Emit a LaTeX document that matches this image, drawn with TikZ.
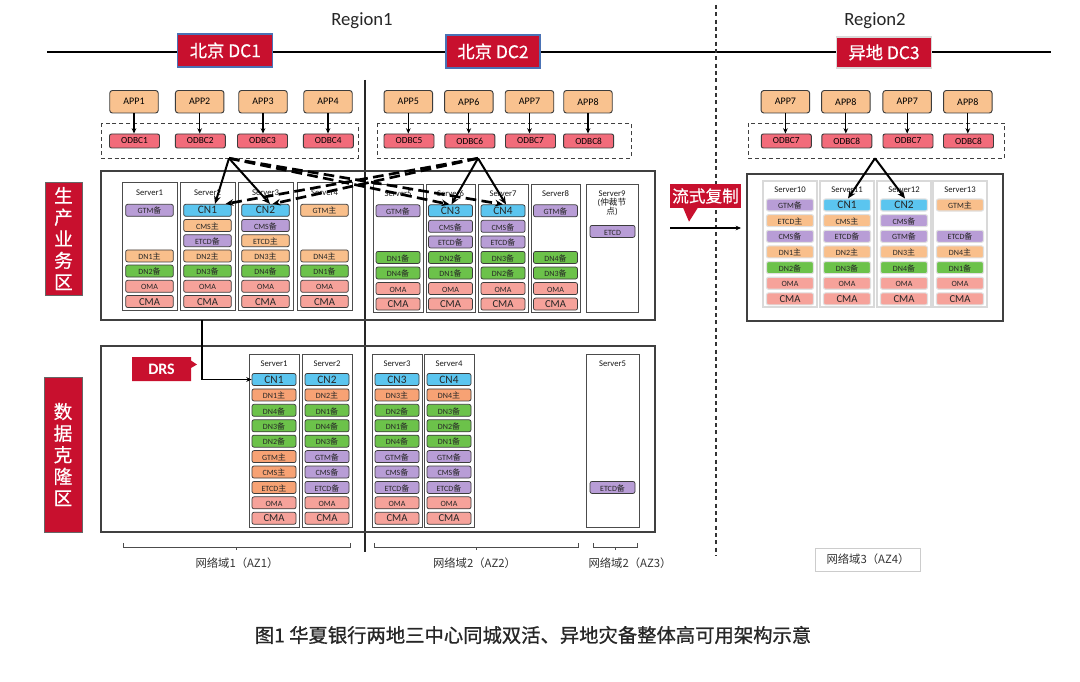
\documentclass[tikz,border=0pt]{standalone}
\usepackage{fontspec}
\setmainfont{Carlito}
\newfontfamily\cjk{Noto Sans CJK SC}
\newfontfamily\cjkcap{Noto Sans CJK SC}[FakeBold=0.8]
\newfontfamily\cjkmed{Noto Sans CJK SC}[FakeBold=0.5]
\usetikzlibrary{arrows.meta,calc}
\newcommand\BEI{{\cjk 备}}
\newcommand\ZHU{{\cjk 主}}
\newcommand\px[1]{#1*0.75pt}
\definecolor{cred}{HTML}{C8102E}
\definecolor{cblue}{HTML}{4A72B5}
\definecolor{capp}{HTML}{F9C28F}
\definecolor{codbc}{HTML}{F26B7A}
\definecolor{cpur}{HTML}{B89DD6}
\definecolor{cora}{HTML}{F9BF8B}
\definecolor{corb}{HTML}{F7A274}
\definecolor{cgrn}{HTML}{6CC24A}
\definecolor{ccn}{HTML}{5BC5EF}
\definecolor{csal}{HTML}{F6A29A}
\definecolor{cedge}{HTML}{3C3C3C}
\newcommand\srv[6]{%
  \foreach \r/\s/\t in {#6}{%
    \node[cell,\s,minimum width=\px{#5}] (#1-\r) at (#2,{#3+(\r-1)*#4}) {\t};
  }}
\tikzset{
  cell/.style={draw=cedge, line width=0.55pt, rounded corners=1.5pt, inner sep=0pt,
    minimum height=\px{12}, text height=0.7em, text depth=0.15em,
    font=\fontsize{6}{7}\selectfont, text=black!85},
  pur/.style={fill=cpur}, ora/.style={fill=cora}, orb/.style={fill=corb},
  grn/.style={fill=cgrn}, cnb/.style={fill=ccn, font=\fontsize{8.5}{9}\selectfont},
  oma/.style={fill=csal}, cma/.style={fill=csal, font=\fontsize{8}{9}\selectfont},
  srvbox/.style={draw=black!70, line width=0.6pt, fill=white},
  srvlite/.style={draw=black!15, line width=1pt, fill=white},
  title/.style={font=\fontsize{6.5}{7.5}\selectfont, inner sep=0pt, text=black!90},
  bigbox/.style={draw=black!75, line width=0.9pt},
  appbox/.style={draw=cedge, line width=0.7pt, fill=capp, rounded corners=2pt,
    minimum width=\px{48.5}, minimum height=\px{22.5}, inner sep=0pt, font=\fontsize{7.5}{8}\selectfont},
  odbcbox/.style={draw=cedge, line width=0.7pt, fill=codbc, rounded corners=1.5pt,
    minimum width=\px{50}, minimum height=\px{14}, inner sep=0pt, font=\fontsize{7}{8}\selectfont},
  odbcgrp/.style={draw=black!75, line width=0.7pt, dash pattern=on 3pt off 2.2pt},
  arr/.style={-{Stealth[length=4pt,width=3.5pt]}, line width=0.9pt},
  bigarr/.style={-{Stealth[length=6pt,width=5pt]}, line width=1.5pt},
  dasharr/.style={-{Stealth[length=6pt,width=5pt]}, line width=2pt, dash pattern=on 8pt off 4pt},
  redlab/.style={fill=cred, text=white, inner sep=0pt},
  brk/.style={draw=black!70, line width=0.7pt},
  azlab/.style={font=\cjk\fontsize{8.5}{10}\selectfont, text=black!80, inner sep=1pt},
}
\begin{document}
\begin{tikzpicture}[x=0.75pt,y=-0.75pt]
\useasboundingbox (0,0) rectangle (1080,681);
\fill[white] (0,0) rectangle (1080,681);

% top line and regions
\coordinate (tlA) at (47,52);
\coordinate (tlB) at (1051,52);
\draw[line width=2.2pt] (tlA) -- (tlB);
\node[font=\fontsize{14}{16}\selectfont, text=black!85] (reg1) at (362,21) {Region1};
\node[font=\fontsize{14}{16}\selectfont, text=black!85] (reg2) at (875,21) {Region2};
\node[redlab, draw=cblue, line width=0.8pt, minimum width=\px{95}, minimum height=\px{33},
  font=\cjkmed\fontsize{13}{14}\selectfont] (dc1) at (225.3,50.5) {北京 DC1};
\node[redlab, draw=cblue, line width=0.8pt, minimum width=\px{94}, minimum height=\px{33},
  font=\cjkmed\fontsize{13}{14}\selectfont] (dc2) at (493,51.5) {北京 DC2};
\node[redlab, draw=black!15, line width=0.8pt, minimum width=\px{94.5}, minimum height=\px{31},
  font=\cjkmed\fontsize{13}{14}\selectfont] (dc3) at (884,52.5) {异地 DC3};

% separators
\coordinate (vA) at (365,80);
\coordinate (vB) at (365,552);
\draw[line width=1pt, black!85] (vA) -- (vB);
\coordinate (dA) at (716,5);
\coordinate (dB) at (716,556);
\draw[line width=0.8pt, black!80, dash pattern=on 3pt off 2.5pt] (dA) -- (dB);

% ODBC groups
\draw[odbcgrp] (101,123.3) rectangle (358,158.3);
\draw[odbcgrp] (377,123.3) rectangle (631,158.3);
\draw[odbcgrp] (748.7,123.3) rectangle (1004.7,158.3);

% APPs and ODBCs
\foreach \i/\x/\lab in {1/134/APP1, 2/199.7/APP2, 3/263/APP3, 4/328/APP4, 5/408.3/APP5, 6/468.8/APP6, 7/529.5/APP7, 8/588/APP8, 9/785.4/APP7, 10/845.8/APP8, 11/907.2/APP7, 12/967.8/APP8}
  {\node[appbox] (app\i) at (\x,101.75) {\lab};}
\foreach \i/\x/\lab in {1/134.5/ODBC1, 2/200.3/ODBC2, 3/262.5/ODBC3, 4/328.3/ODBC4, 5/409/ODBC5, 6/469.8/ODBC6, 7/530.5/ODBC7, 8/588.6/ODBC8, 9/786.3/ODBC7, 10/846.8/ODBC8, 11/908/ODBC7, 12/968.5/ODBC8}
  {\node[odbcbox] (odbc\i) at (\x,141) {\lab};
   \draw[arr] (app\i.south) -- (app\i.south |- odbc\i.north);}

% zone labels
\node[redlab, draw=black!60, line width=0.5pt, minimum width=\px{37}, minimum height=\px{113},
  align=center, font=\cjkmed\fontsize{14}{16.2}\selectfont] (zoneA) at (63.5,238.5) {生\\产\\业\\务\\区};
\node[redlab, draw=black!60, line width=0.5pt, minimum width=\px{38}, minimum height=\px{155},
  align=center, font=\cjkmed\fontsize{14}{16.2}\selectfont] (zoneB) at (63,454.5) {数\\据\\克\\隆\\区};

% big boxes
\draw[bigbox] (101,171) rectangle (655,320);
\draw[bigbox] (747,174) rectangle (1003,321);
\draw[bigbox] (101,346) rectangle (655,532);

% production servers
\foreach \n/\xa/\xb/\lab in {p1/122/177/Server1, p2/180/235/Server2, p3/238/293/Server3, p4/297/352/Server4}{
  \draw[srvbox] (\xa,182) rectangle (\xb,310);
  \node[title] (\n-t) at ({(\xa+\xb)/2},192.7) {\lab};}
\foreach \n/\xa/\xb/\lab in {p5/373/423/Server5, p6/426/475/Server6, p7/478/528/Server7, p8/531/580/Server8}{
  \draw[srvbox] (\xa,184) rectangle (\xb,312);
  \node[title] (\n-t) at ({(\xa+\xb)/2},193.5) {\lab};}
\draw[srvbox] (586,184) rectangle (638,312);
\node[title] (p9-t) at (612,194) {Server9};
\node[title] (p9-t2) at (612,202.6) {({\cjk 仲裁节}};
\node[title] (p9-t3) at (612,211.2) {{\cjk 点})};

\srv{p1}{149.5}{210.3}{15.2}{47.6}{1/pur/GTM\BEI, 4/ora/DN1\ZHU, 5/grn/DN2\BEI, 6/oma/OMA, 7/cma/CMA}
\srv{p2}{207.5}{210.3}{15.2}{47.6}{1/cnb/CN1, 2/ora/CMS\ZHU, 3/pur/ETCD\BEI, 4/ora/DN2\ZHU, 5/grn/DN3\BEI, 6/oma/OMA, 7/cma/CMA}
\srv{p3}{265.5}{210.3}{15.2}{47.6}{1/cnb/CN2, 2/pur/CMS\BEI, 3/ora/ETCD\ZHU, 4/ora/DN3\ZHU, 5/grn/DN4\BEI, 6/oma/OMA, 7/cma/CMA}
\srv{p4}{324.5}{210.3}{15.2}{47.6}{1/ora/GTM\ZHU, 4/ora/DN4\ZHU, 5/grn/DN1\BEI, 6/oma/OMA, 7/cma/CMA}
\srv{p5}{398}{210.8}{15.55}{44}{1/pur/GTM\BEI, 4/grn/DN1\BEI, 5/grn/DN4\BEI, 6/oma/OMA, 7/cma/CMA}
\srv{p6}{450.5}{210.8}{15.55}{44}{1/cnb/CN3, 2/pur/CMS\BEI, 3/pur/ETCD\BEI, 4/grn/DN2\BEI, 5/grn/DN1\BEI, 6/oma/OMA, 7/cma/CMA}
\srv{p7}{503}{210.8}{15.55}{44}{1/cnb/CN4, 2/pur/CMS\BEI, 3/pur/ETCD\BEI, 4/grn/DN3\BEI, 5/grn/DN2\BEI, 6/oma/OMA, 7/cma/CMA}
\srv{p8}{555.5}{210.8}{15.55}{44}{1/pur/GTM\BEI, 4/grn/DN4\BEI, 5/grn/DN3\BEI, 6/oma/OMA, 7/cma/CMA}
\node[cell, pur, minimum width=\px{45}] (p9-e) at (612.5,231.4) {ETCD};

% DC3 servers
\begin{scope}[cell/.append style={draw=black!12, line width=0.8pt}]
\foreach \n/\xa/\xb/\lab in {q10/763/817/Server10, q11/820/874/Server11, q12/877/931/Server12, q13/933/987/Server13}{
  \draw[srvlite] (\xa,181) rectangle (\xb,307);
  \node[title] (\n-t) at ({(\xa+\xb)/2},190) {\lab};}
\srv{q10}{790}{205}{15.65}{47}{1/pur/GTM\BEI, 2/ora/ETCD\ZHU, 3/pur/CMS\BEI, 4/ora/DN1\ZHU, 5/grn/DN2\BEI, 6/oma/OMA, 7/cma/CMA}
\srv{q11}{847}{205}{15.65}{47}{1/cnb/CN1, 2/ora/CMS\ZHU, 3/pur/ETCD\BEI, 4/ora/DN2\ZHU, 5/grn/DN3\BEI, 6/oma/OMA, 7/cma/CMA}
\srv{q12}{904}{205}{15.65}{47}{1/cnb/CN2, 2/pur/CMS\BEI, 3/pur/GTM\BEI, 4/ora/DN3\ZHU, 5/grn/DN4\BEI, 6/oma/OMA, 7/cma/CMA}
\srv{q13}{960}{205}{15.65}{47}{1/ora/GTM\ZHU, 3/pur/ETCD\BEI, 4/ora/DN4\ZHU, 5/grn/DN1\BEI, 6/oma/OMA, 7/cma/CMA}
\end{scope}

% DRS servers
\foreach \n/\xa/\xb/\lab in {d1/249/299/Server1, d2/302/352/Server2, d3/372/422/Server3, d4/424/474/Server4, d5/586/639/Server5}{
  \draw[srvbox] (\xa,354) rectangle (\xb,527);
  \node[title] (\n-t) at ({(\xa+\xb)/2},364) {\lab};}
\srv{d1}{274}{379.5}{15.42}{44}{1/cnb/CN1, 2/orb/DN1\ZHU, 3/grn/DN4\BEI, 4/grn/DN3\BEI, 5/grn/DN2\BEI, 6/orb/GTM\ZHU, 7/orb/CMS\ZHU, 8/orb/ETCD\ZHU, 9/oma/OMA, 10/cma/CMA}
\srv{d2}{327}{379.5}{15.42}{44}{1/cnb/CN2, 2/orb/DN2\ZHU, 3/grn/DN1\BEI, 4/grn/DN4\BEI, 5/grn/DN3\BEI, 6/pur/GTM\BEI, 7/pur/CMS\BEI, 8/pur/ETCD\BEI, 9/oma/OMA, 10/cma/CMA}
\srv{d3}{397}{379.5}{15.42}{44}{1/cnb/CN3, 2/orb/DN3\ZHU, 3/grn/DN2\BEI, 4/grn/DN1\BEI, 5/grn/DN4\BEI, 6/pur/GTM\BEI, 7/pur/CMS\BEI, 8/pur/ETCD\BEI, 9/oma/OMA, 10/cma/CMA}
\srv{d4}{449}{379.5}{15.42}{44}{1/cnb/CN4, 2/orb/DN4\ZHU, 3/grn/DN3\BEI, 4/grn/DN2\BEI, 5/grn/DN1\BEI, 6/pur/GTM\BEI, 7/pur/CMS\BEI, 8/pur/ETCD\BEI, 9/oma/OMA, 10/cma/CMA}
\srv{d5}{612.5}{379.5}{15.42}{45}{8/pur/ETCD\BEI}

% ODBC -> CN arrows
\coordinate (apL) at (229,158.3);
\coordinate (apM) at (478,158.3);
\coordinate (apR) at (875,158.3);
\draw[dasharr] (apL) -- ($(p6-1.north)+(-1,0)$);
\draw[dasharr] (apL) -- ($(p7-1.north)+(0,0)$);
\draw[dasharr] (apM) -- ($(p2-1.north)+(18,0)$);
\draw[dasharr] (apM) -- ($(p3-1.north)+(7,0)$);
\draw[bigarr] (apL) -- ($(p2-1.north)+(7.5,0)$);
\draw[bigarr] (apL) -- ($(p3-1.north)+(4.5,0)$);
\draw[bigarr] (apM) -- ($(p6-1.north)+(1,0)$);
\draw[bigarr] (apM) -- ($(p7-1.north)+(3,0)$);
\draw[bigarr] (apR) -- ($(q11-1.north)+(1,0)$);
\draw[bigarr] (apR) -- ($(q12-1.north)+(1,0)$);

% stream replication
\node[redlab, minimum width=\px{71}, minimum height=\px{24},
  font=\cjkmed\fontsize{12.5}{13}\selectfont] (lsfz) at (705.5,196) {流式复制};
\fill[cred] (683,207.5) -- (698,207.5) -- (689,221.7) -- cycle;
\coordinate (lsA) at (670,228);
\coordinate (lsB) at (741,228);
\draw[arr, line width=1.1pt] (lsA) -- (lsB);

% DRS
\fill[cred] (132,357) -- (191,357) -- (191,360.5) -- (197,364.5) -- (191,368) -- (191,381) -- (132,381) -- cycle;
\node[text=white, font=\bfseries\fontsize{12}{13}\selectfont, inner sep=0pt] (drs) at (161.5,369) {DRS};
\coordinate (drsA) at (202,320);
\draw[arr, line width=1.1pt] (drsA) |- (d1-1.west);

% AZ brackets
\draw[brk] (123,543) -- (123,547) -- (350,547) -- (350,543);
\draw[brk] (236.5,547) -- (236.5,550);
\draw[brk] (374,543) -- (374,547) -- (578,547) -- (578,543);
\draw[brk] (476,547) -- (476,550);
\draw[brk] (593.5,543) -- (593.5,547) -- (637,547) -- (637,543);
\draw[brk] (615,547) -- (615,550);
\node[azlab] (az1) at (237,563) {网络域1（AZ1）};
\node[azlab] (az2) at (474.5,563) {网络域2（AZ2）};
\node[azlab] (az3) at (630,563) {网络域2（AZ3）};
\node[azlab, draw=black!20, line width=0.7pt, minimum width=\px{105}, minimum height=\px{23}] (az4) at (868,559.5) {网络域3（AZ4）};

% caption
\node[font=\cjkcap\fontsize{14.5}{16}\selectfont, text=black!85] (cap) at (533,635) {图1 华夏银行两地三中心同城双活、异地灾备整体高可用架构示意};
\end{tikzpicture}
\end{document}
